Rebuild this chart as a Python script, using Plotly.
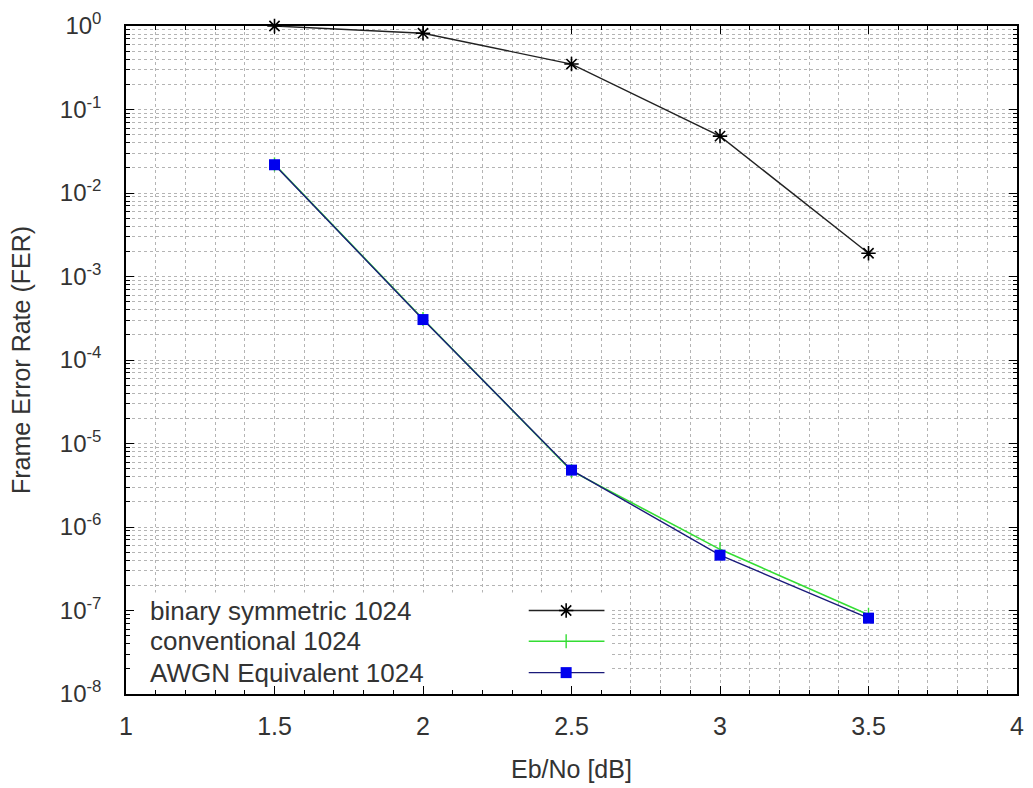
import plotly.graph_objects as go

ebno = [1.5, 2.0, 2.5, 3.0, 3.5]
fer_bsc = [1.0, 0.82, 0.35, 0.048, 0.0019]
fer_conv = [0.022, 3.1e-4, 4.7e-6, 5.4e-7, 8.9e-8]
fer_awgn = [0.0218, 3.05e-4, 4.8e-6, 4.6e-7, 8.1e-8]
series_names = ["binary symmetric 1024", "conventional 1024", "AWGN Equivalent 1024"]
decades = [0, -1, -2, -3, -4, -5, -6, -7, -8]
x_ticks = [1, 1.5, 2, 2.5, 3, 3.5, 4]

FONT = "Liberation Sans, Arial, sans-serif"
TXT = "#333333"
GRID = "#b4b4b4"

c_bsc = "#222222"
c_conv = "#33dd33"
c_awgn = "#1a1a7a"

star = dict(symbol="asterisk-open", size=12, color="#000", line=dict(color="#000", width=1.6))
plus = dict(symbol="line-ns-open", size=10, color=c_conv, line=dict(color=c_conv, width=1.4))
sq = dict(symbol="square", size=11, color="#0000ee", line=dict(width=0))

fig = go.Figure()
fig.add_trace(go.Scatter(x=ebno, y=fer_bsc, mode="lines+markers", name=series_names[0],
                         line=dict(color=c_bsc, width=1.4), marker=star, cliponaxis=False))
fig.add_trace(go.Scatter(x=ebno, y=fer_conv, mode="lines+markers", name=series_names[1],
                         line=dict(color=c_conv, width=1.6), marker=plus))
fig.add_trace(go.Scatter(x=ebno, y=fer_awgn, mode="lines+markers", name=series_names[2],
                         line=dict(color=c_awgn, width=1.4), marker=sq))

# custom legend on overlay axes
fig.add_trace(go.Scatter(x=[0, 0.545, 0.545, 0, 0], y=[0, 0, 0.152, 0.152, 0], fill="toself",
                         fillcolor="white", mode="lines", line=dict(width=0),
                         xaxis="x2", yaxis="y2", showlegend=False, hoverinfo="skip"))
leg_y = [0.125, 0.079, 0.032]
styles = [
    (dict(color=c_bsc, width=1.4), star),
    (dict(color=c_conv, width=1.6), plus),
    (dict(color=c_awgn, width=1.4), sq),
]
for yy, (ln, mk) in zip(leg_y, styles):
    fig.add_trace(go.Scatter(x=[0.452, 0.537], y=[yy, yy], mode="lines", line=ln,
                             xaxis="x2", yaxis="y2", showlegend=False, hoverinfo="skip"))
    fig.add_trace(go.Scatter(x=[0.494], y=[yy], mode="markers", marker=mk,
                             xaxis="x2", yaxis="y2", showlegend=False, hoverinfo="skip"))
for yy, nm in zip(leg_y, series_names):
    fig.add_annotation(x=0.025, y=yy, xref="paper", yref="paper", text=nm, showarrow=False,
                       xanchor="left", yanchor="middle", font=dict(family=FONT, size=26, color=TXT))

# x-axis title
fig.add_annotation(x=0.5, y=-0.112, xref="paper", yref="paper", text="Eb/No [dB]", showarrow=False,
                   xanchor="center", yanchor="middle", font=dict(family=FONT, size=25, color=TXT))

minor_y = [m * 10.0 ** d for d in decades[1:] for m in range(2, 10)]

fig.update_layout(
    width=1033, height=788,
    margin=dict(l=126, r=9, t=25, b=94),
    paper_bgcolor="white", plot_bgcolor="white",
    showlegend=False,
    font=dict(family=FONT, color=TXT, size=24),
    xaxis=dict(range=[1, 4], tickvals=x_ticks, ticktext=[("%g" % v) for v in x_ticks],
               showgrid=True, gridcolor=GRID, griddash="3px,3px", gridwidth=1,
               ticks="inside", ticklen=8, tickcolor="#000", mirror="ticks",
               showline=True, linecolor="#000", linewidth=1.5, zeroline=False,
               tickfont=dict(size=25, color=TXT), ticklabelstandoff=9,
               minor=dict(dtick=0.1, tick0=1, ticks="inside", ticklen=4, tickcolor="#000",
                          showgrid=True, gridcolor=GRID, griddash="3px,3px", gridwidth=1)),
    yaxis=dict(type="log", range=[-8, 0],
               tickvals=[10.0 ** d for d in decades],
               ticktext=["10<sup>%d</sup>" % d for d in decades],
               showgrid=True, gridcolor=GRID, griddash="3px,3px", gridwidth=1,
               ticks="inside", ticklen=8, tickcolor="#000", mirror="ticks",
               showline=True, linecolor="#000", linewidth=1.5, zeroline=False,
               tickfont=dict(size=24, color=TXT), ticklabelstandoff=18,
               minor=dict(tickvals=minor_y, ticks="inside", ticklen=4, tickcolor="#000",
                          showgrid=True, gridcolor=GRID, griddash="3px,3px", gridwidth=1),
               title=dict(text="Frame Error Rate (FER)", font=dict(size=25, color=TXT), standoff=22)),
    xaxis2=dict(overlaying="x", range=[0, 1], visible=False, fixedrange=True),
    yaxis2=dict(overlaying="y", range=[0, 1], visible=False, fixedrange=True),
)

fig.write_html("out.html")
